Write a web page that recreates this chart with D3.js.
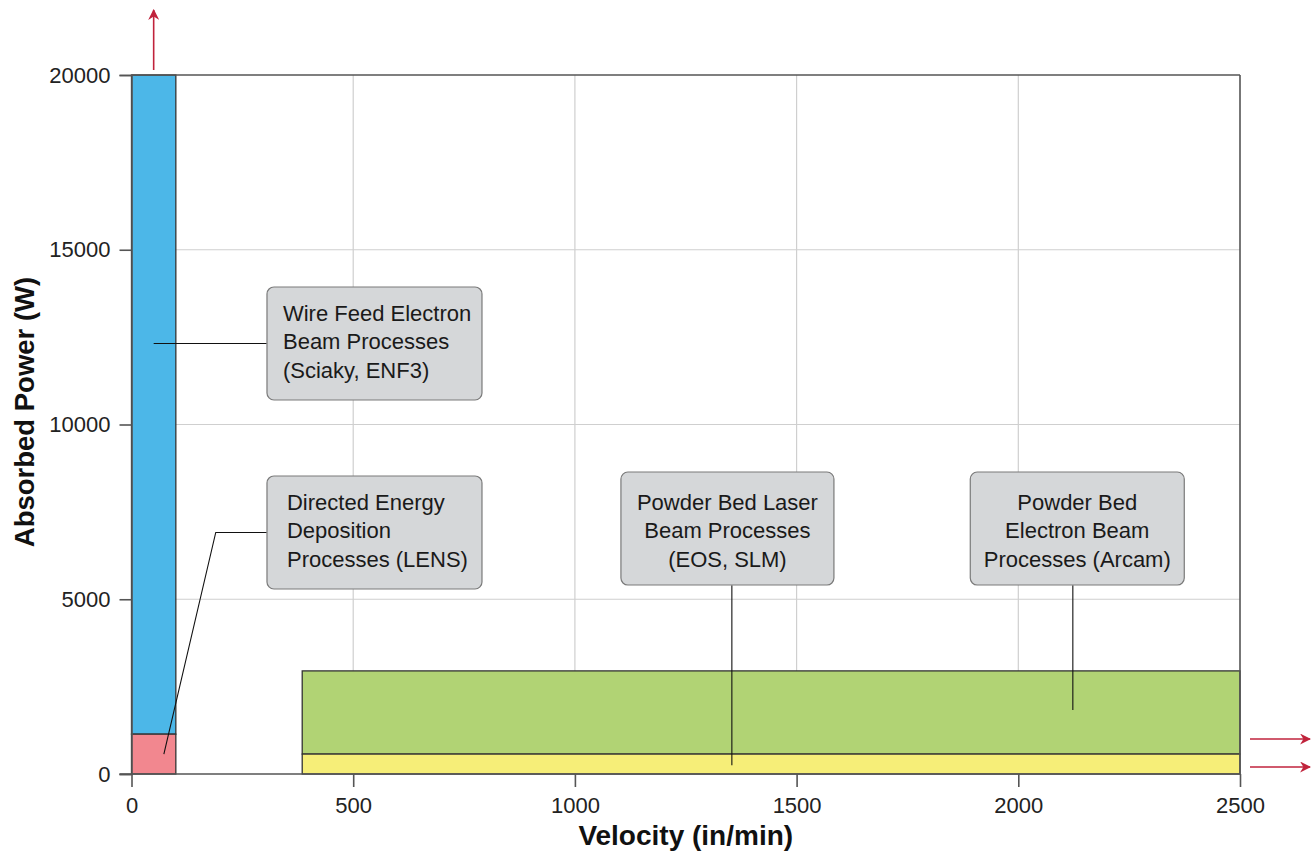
<!DOCTYPE html>
<html><head><meta charset="utf-8">
<script src="https://cdn.jsdelivr.net/npm/d3@7"></script>
<style>body{margin:0;background:#fff}svg{display:block;font-family:"Liberation Sans",Arial,sans-serif}</style>
</head><body><svg id="c" width="1314" height="855"></svg>
<script>
// data
const xTicks = [0, 500, 1000, 1500, 2000, 2500];
const yTicks = [0, 5000, 10000, 15000, 20000];
const regionNames = ["Wire Feed EB", "DED (LENS)", "Powder Bed EB", "Powder Bed Laser"];
const regionX0 = [0, 0, 385, 385];
const regionX1 = [100, 100, 2500, 2500];
const regionY0 = [1140, 0, 570, 0];
const regionY1 = [20000, 1140, 2950, 570];
const regionColors = ["#4cb7e8", "#f2878f", "#b1d374", "#f6ee78"];
const labelLines = [
  ["Wire Feed Electron", "Beam Processes", "(Sciaky, ENF3)"],
  ["Directed Energy", "Deposition", "Processes (LENS)"],
  ["Powder Bed Laser", "Beam Processes", "(EOS, SLM)"],
  ["Powder Bed", "Electron Beam", "Processes (Arcam)"]
];
const labelCX = [548, 548, 1344, 2133];
const labelCY = [12318, 6910, 7024, 7024];
const labelW = [215, 215, 213, 214];
const labelAlign = ["start", "start", "middle", "middle"];
// leader points in data units
const leaders = [
  [[50, 12318], [305, 12318]],
  [[73, 570], [190, 6910], [305, 6910]],
  [[1354, 250], [1354, 5400]],
  [[2123, 1830], [2123, 5400]]
];
// "continues beyond" arrows (data units)
const upArrowX = 50;
const rightArrowY = [1000, 200];

const svg = d3.select("#c");
const m = {l: 131.5, r: 1240, t: 75, b: 774};
const x = d3.scaleLinear().domain([0, 2500]).range([m.l, m.r]);
const y = d3.scaleLinear().domain([0, 20000]).range([m.b, m.t]);
const FONT = "Liberation Sans, Arial, sans-serif";

// grid
svg.append("g").selectAll("line").data(xTicks.slice(1, -1)).join("line")
  .attr("x1", d => x(d)).attr("x2", d => x(d)).attr("y1", m.t).attr("y2", m.b)
  .attr("stroke", "#cfcfcf").attr("stroke-width", 1.2);
svg.append("g").selectAll("line").data(yTicks.slice(1, -1)).join("line")
  .attr("x1", m.l).attr("x2", m.r).attr("y1", d => y(d)).attr("y2", d => y(d))
  .attr("stroke", "#cfcfcf").attr("stroke-width", 1.2);

// regions
svg.append("g").selectAll("rect").data(regionNames.map((n, i) => i)).join("rect")
  .attr("x", i => x(regionX0[i])).attr("width", i => x(regionX1[i]) - x(regionX0[i]))
  .attr("y", i => y(regionY1[i])).attr("height", i => y(regionY0[i]) - y(regionY1[i]))
  .attr("fill", i => regionColors[i]).attr("stroke", "#333").attr("stroke-width", 1.3);

// axes
const axisColor = "#555";
const xAxis = svg.append("g").attr("transform", `translate(0,${m.b})`)
  .call(d3.axisBottom(x).tickValues(xTicks).tickSize(13).tickPadding(10).tickFormat(d3.format("d")));
const yAxis = svg.append("g").attr("transform", `translate(${m.l},0)`)
  .call(d3.axisLeft(y).tickValues(yTicks).tickSize(12).tickPadding(9).tickFormat(d3.format("d")));
[xAxis, yAxis].forEach(a => {
  a.select(".domain").attr("stroke", axisColor).attr("stroke-width", 1.6);
  a.selectAll(".tick line").attr("stroke", axisColor).attr("stroke-width", 1.6);
  a.selectAll("text").attr("font-size", 22).attr("fill", "#222").attr("font-family", FONT);
});
xAxis.select(".domain").attr("d", `M${m.l - 12},0H${m.r}`);
// frame top & right
svg.append("line").attr("x1", m.l).attr("x2", m.r).attr("y1", m.t).attr("y2", m.t)
  .attr("stroke", axisColor).attr("stroke-width", 1.6);
svg.append("line").attr("x1", m.r).attr("x2", m.r).attr("y1", m.t).attr("y2", m.b)
  .attr("stroke", axisColor).attr("stroke-width", 1.6);

// arrows
const red = "#c0233c";
svg.append("defs").append("marker").attr("id", "ah").attr("viewBox", "0 0 10 10")
  .attr("refX", 9).attr("refY", 5).attr("markerWidth", 11).attr("markerHeight", 11)
  .attr("markerUnits", "userSpaceOnUse").attr("orient", "auto")
  .append("path").attr("d", "M0,0L10,5L0,10L3,5Z").attr("fill", red);
svg.append("line").attr("x1", x(upArrowX)).attr("x2", x(upArrowX)).attr("y1", y(20000) - 5).attr("y2", 10)
  .attr("stroke", red).attr("stroke-width", 1.6).attr("marker-end", "url(#ah)");
rightArrowY.forEach(v => {
  svg.append("line").attr("x1", m.r + 10).attr("x2", 1310).attr("y1", y(v)).attr("y2", y(v))
    .attr("stroke", red).attr("stroke-width", 1.6).attr("marker-end", "url(#ah)");
});

// leaders
const line = d3.line().x(d => x(d[0])).y(d => y(d[1]));
svg.append("g").selectAll("path").data(leaders).join("path")
  .attr("d", line).attr("fill", "none").attr("stroke", "#111").attr("stroke-width", 1.1);

// label boxes
const bh = 113;
labelLines.forEach((lines, i) => {
  const cx = x(labelCX[i]), cy = y(labelCY[i]), w = labelW[i];
  svg.append("rect").attr("x", cx - w / 2).attr("y", cy - bh / 2).attr("width", w).attr("height", bh)
    .attr("rx", 7).attr("fill", "#d5d7d9").attr("stroke", "#7a7a7a").attr("stroke-width", 1.2);
  const left = labelAlign[i] === "start";
  const tx = left ? cx - w / 2 + (i === 0 ? 16 : 20) : cx;
  const top = left ? -22.5 : -19;
  const t = svg.append("text").attr("text-anchor", labelAlign[i]).attr("font-size", 22)
    .attr("fill", "#1a1a1a").attr("font-family", FONT);
  lines.forEach((s, k) => t.append("tspan").attr("x", tx).attr("y", cy + top + k * 28.5).text(s));
});

// axis titles
svg.append("text").attr("x", (m.l + m.r) / 2).attr("y", 845).attr("text-anchor", "middle").attr("font-family", FONT)
  .attr("font-size", 28).attr("font-weight", "bold").attr("fill", "#111").text("Velocity (in/min)");
svg.append("text").attr("transform", `translate(34,412) rotate(-90)`).attr("text-anchor", "middle").attr("font-family", FONT)
  .attr("font-size", 27.5).attr("font-weight", "bold").attr("fill", "#111").text("Absorbed Power (W)");
</script></body></html>
